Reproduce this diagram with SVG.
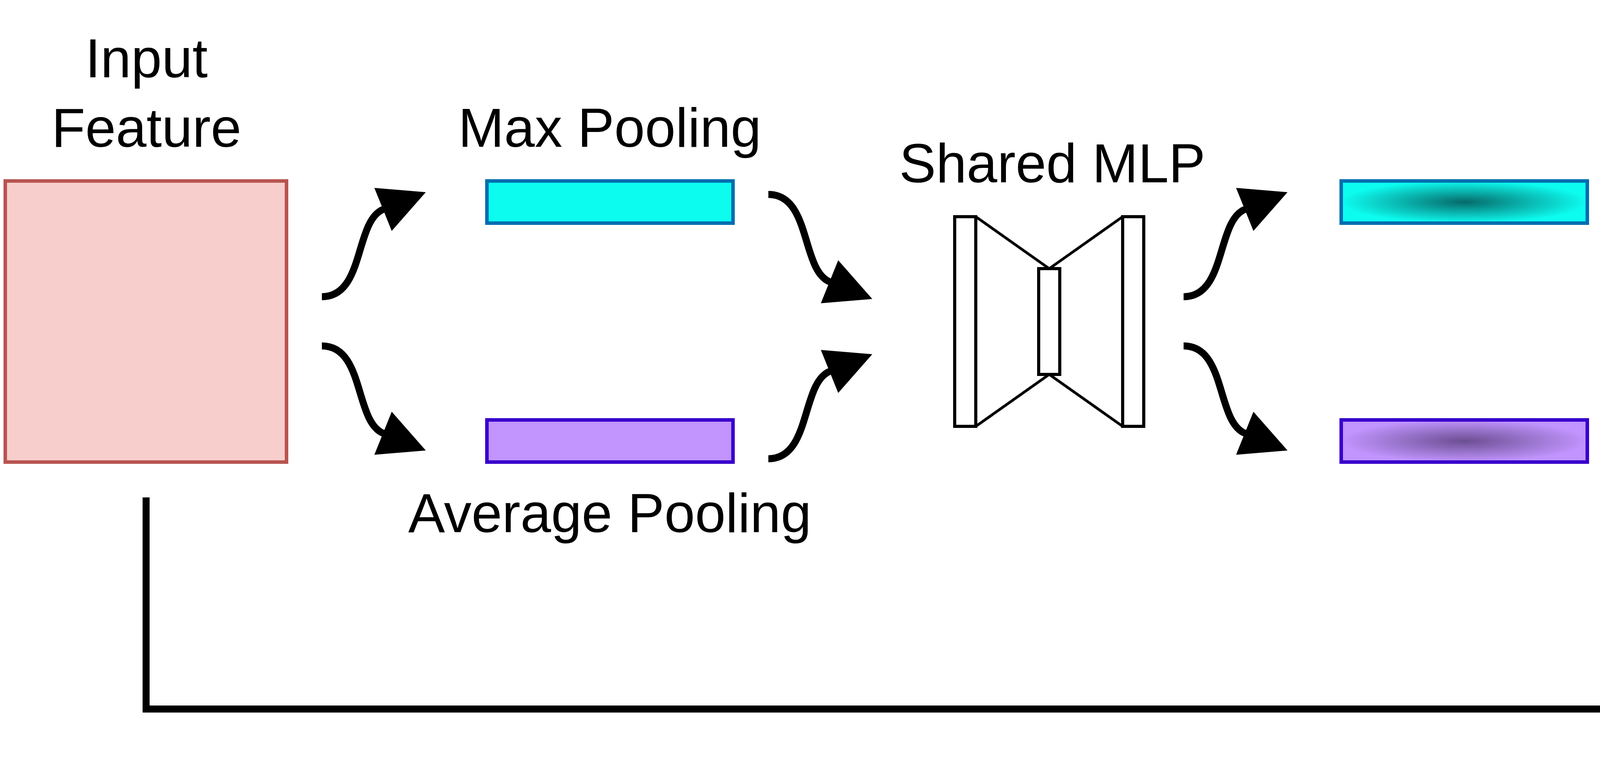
<svg xmlns="http://www.w3.org/2000/svg" width="7146" height="1944" viewBox="0 0 7146 1944">
<style>
  text{font-family:"Liberation Sans",Arial,Helvetica,sans-serif;font-size:141px;fill:#000;text-anchor:middle}
  .conn{fill:none;stroke:#000;stroke-width:18}
  .op{fill:none;stroke:#000;stroke-width:18}
  .opl{stroke:#000;stroke-width:17;fill:none}
  .mlp{fill:#fff;stroke:#000;stroke-width:8}
  .mlpl{fill:none;stroke:#000;stroke-width:7}
  .feat{stroke:#B85450;stroke-width:9}
  .cyan{stroke:#006EAF;stroke-width:9}
  .purp{stroke:#3700CC;stroke-width:9}
</style>
<defs>
  <radialGradient id="gCyan" cx="0.5" cy="0.5" r="0.5">
    <stop offset="0" stop-color="#066A6A"/>
    <stop offset="1" stop-color="#0DFCF0"/>
  </radialGradient>
  <radialGradient id="gPurp" cx="0.5" cy="0.5" r="0.5">
    <stop offset="0" stop-color="#6C4F92"/>
    <stop offset="1" stop-color="#C194FE"/>
  </radialGradient>
  <radialGradient id="gAtt" cx="0.5" cy="0.5" r="0.5">
    <stop offset="0" stop-color="#FF6A00"/>
    <stop offset="1" stop-color="#F8DACB"/>
  </radialGradient>
  <radialGradient id="gRef" cx="0.5" cy="0.5" r="0.5">
    <stop offset="0" stop-color="#F7808F"/>
    <stop offset="1" stop-color="#F8CECC"/>
  </radialGradient>
  <marker id="blk" markerUnits="userSpaceOnUse" markerWidth="122" markerHeight="122" refX="1" refY="59.5" orient="auto" overflow="visible">
    <path d="M0,0 L118,59.5 L0,119 Z" fill="#000"/>
  </marker>
  <marker id="cls" markerUnits="userSpaceOnUse" markerWidth="132" markerHeight="132" refX="27" refY="65" orient="auto" overflow="visible">
    <path d="M0,0 L130,65 L0,130 L28,65 Z" fill="#000"/>
  </marker>
</defs>
<rect width="7146" height="1944" fill="#fff"/>

<g id="input-feature">
  <rect class="feat" x="13.5" y="463.5" width="720" height="720" fill="#F8CECC"/>
  <text x="375" y="198">Input</text>
  <text x="375" y="376">Feature</text>
</g>

<g id="max-pooling">
  <rect class="cyan" x="1246.5" y="463.5" width="630" height="108" fill="#0DFCF0"/>
  <text x="1561" y="376">Max Pooling</text>
</g>

<g id="average-pooling">
  <rect class="purp" x="1246.5" y="1075.5" width="630" height="108" fill="#C194FE"/>
  <text x="1561" y="1363">Average Pooling</text>
</g>

<g id="shared-mlp">
  <text x="2694" y="467">Shared MLP</text>
  <polyline class="mlpl" points="2498,555 2686,688 2874,555"/>
  <polyline class="mlpl" points="2498,1092 2686,959 2874,1092"/>
  <rect class="mlp" x="2444" y="555" width="54" height="537"/>
  <rect class="mlp" x="2659" y="688" width="54" height="271"/>
  <rect class="mlp" x="2874" y="555" width="54" height="537"/>
</g>

<g id="mlp-out-max">
  <rect class="cyan" x="3433.5" y="463.5" width="630" height="108" fill="url(#gCyan)"/>
</g>

<g id="mlp-out-avg">
  <rect class="purp" x="3433.5" y="1075.5" width="630" height="108" fill="url(#gPurp)"/>
</g>

<g id="sum-op">
  <circle class="op" cx="4626" cy="823" r="112"/>
  <line class="opl" x1="4626" y1="711" x2="4626" y2="935"/>
  <line class="opl" x1="4514" y1="823" x2="4738" y2="823"/>
</g>

<g id="sigmoid-op">
  <circle class="op" cx="4914" cy="823" r="112"/>
  <path class="opl" d="M4858,896 C4905,896 4914,870 4914,822 C4914,775 4925,749 4970,749"/>
</g>

<g id="attention">
  <text x="5427" y="684">Attention</text>
  <rect x="5143" y="770" width="631" height="108" fill="url(#gAtt)" stroke="#C73500" stroke-width="8"/>
</g>

<g id="mult-op">
  <circle class="op" cx="5840" cy="1792" r="112"/>
  <line class="opl" x1="5761" y1="1713" x2="5919" y2="1871"/>
  <line class="opl" x1="5919" y1="1713" x2="5761" y2="1871"/>
</g>

<g id="refined-feature">
  <text x="6494" y="955">Attention Based</text>
  <text x="6494" y="1136">Refined Feature</text>
  <rect class="feat" x="6097.5" y="1201.5" width="720" height="720" fill="url(#gRef)"/>
</g>

<g id="connectors">
  <path class="conn" marker-end="url(#blk)" d="M824,760 C934,760 907,566 981.5,536"/>
  <path class="conn" marker-end="url(#blk)" d="M824,886 C934,886 907,1080 981.5,1110"/>
  <path class="conn" marker-end="url(#blk)" d="M1967,498 C2077,498 2050,692 2124.5,722"/>
  <path class="conn" marker-end="url(#blk)" d="M1967,1175 C2077,1175 2050,981 2124.5,951"/>
  <path class="conn" marker-end="url(#blk)" d="M3030,760 C3140,760 3113,566 3187.5,536"/>
  <path class="conn" marker-end="url(#blk)" d="M3030,886 C3140,886 3113,1080 3187.5,1110"/>
  <path class="conn" marker-end="url(#blk)" d="M4154,483 C4264,483 4237,677 4311.5,707"/>
  <path class="conn" marker-end="url(#blk)" d="M4154,1162 C4264,1162 4237,968 4311.5,938"/>
  <path class="conn" marker-end="url(#blk)" d="M5404,981 C5480,985 5510,1110 5540,1240 C5570,1380 5610,1470 5688,1550"/>
  <path class="conn" marker-end="url(#cls)" stroke-linejoin="miter" d="M374,1274 V1816 H5582"/>
</g>
</svg>
